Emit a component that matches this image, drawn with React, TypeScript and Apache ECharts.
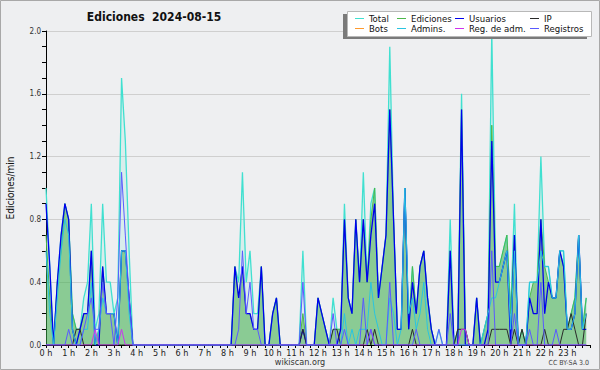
import React, { useEffect, useRef } from "react";
import * as echarts from "echarts";

// 10-minute bins (6 per hour), values in edits per minute
const HOUR_LABELS = ["0 h","1 h","2 h","3 h","4 h","5 h","6 h","7 h","8 h","9 h","10 h","11 h","12 h","13 h","14 h","15 h","16 h","17 h","18 h","19 h","20 h","21 h","22 h","23 h"];
const Y_TICKS = [0, 0.4, 0.8, 1.2, 1.6, 2.0];

const TOTAL = [
  1.0, 0.5, 0.0, 0.4, 0.7, 0.9,
  0.8, 0.2, 0.1, 0.1, 0.3, 0.4,
  0.9, 0.1, 0.2, 0.9, 0.4, 0.4,
  0.2, 0.3, 1.7, 1.3, 0.6, 0.0,
  0, 0, 0, 0, 0, 0,
  0, 0, 0, 0, 0, 0,
  0, 0, 0, 0, 0, 0,
  0, 0, 0, 0, 0, 0,
  0, 0, 0.5, 0.4, 1.1, 0.4,
  0.6, 0.2, 0.2, 0.5, 0, 0,
  0.2, 0.3, 0, 0, 0, 0,
  0, 0, 0.6, 0, 0, 0,
  0.3, 0.2, 0.1, 0, 0.3, 0.1,
  0.1, 0.9, 0.3, 0.2, 0.8, 0.4,
  1.1, 0.4, 0.9, 1.0, 0.3, 0.5,
  0.7, 1.9, 0.8, 0.1, 0.1, 1.0,
  0.1, 0.5, 0.2, 0.5, 0.6, 0.3,
  0.1, 0, 0.1, 0, 0, 0.8,
  0, 0.1, 1.6, 0.1, 0, 0,
  0.3, 0, 0.1, 0.2, 2.0, 0.5,
  0.5, 0.6, 0.7, 0.2, 0.9, 0,
  0.1, 0, 0.4, 0.4, 0.4, 1.2,
  0.5, 0.5, 0.3, 0.3, 0.6, 0.6,
  0.1, 0.2, 0.3, 0.7, 0.1, 0.3,
];

const EDICIONES = [
  0.7, 0.3, 0.0, 0.4, 0.6, 0.9,
  0.8, 0.2, 0.1, 0.1, 0.2, 0.2,
  0.6, 0.0, 0.1, 0.5, 0.2, 0.2,
  0.2, 0.0, 0.6, 0.6, 0.3, 0.0,
  0, 0, 0, 0, 0, 0,
  0, 0, 0, 0, 0, 0,
  0, 0, 0, 0, 0, 0,
  0, 0, 0, 0, 0, 0,
  0, 0, 0.5, 0.3, 0.5, 0.2,
  0.2, 0.1, 0.1, 0.5, 0, 0,
  0.2, 0.3, 0, 0, 0, 0,
  0, 0, 0.2, 0, 0, 0,
  0.3, 0.2, 0.1, 0, 0.1, 0.1,
  0.1, 0.8, 0.3, 0.2, 0.8, 0.4,
  0.8, 0.4, 0.8, 1.0, 0.3, 0.5,
  0.7, 1.5, 0.8, 0.1, 0.1, 1.0,
  0.1, 0.5, 0.2, 0.5, 0.6, 0.3,
  0.1, 0, 0, 0, 0, 0.6,
  0, 0.1, 1.5, 0.1, 0, 0,
  0.3, 0, 0.1, 0.2, 1.4, 0.5,
  0.5, 0.6, 0.7, 0.2, 0.7, 0,
  0.1, 0, 0.3, 0.4, 0.4, 0.8,
  0.5, 0.4, 0.3, 0.3, 0.6, 0.5,
  0.1, 0.2, 0.3, 0.7, 0.1, 0.3,
];

const USUARIOS = [
  0.9, 0.5, 0.0, 0.4, 0.7, 0.9,
  0.8, 0.1, 0.0, 0.1, 0.2, 0.2,
  0.6, 0.0, 0.0, 0.5, 0.2, 0.2,
  0.2, 0.0, 0.6, 0.6, 0.3, 0.0,
  0, 0, 0, 0, 0, 0,
  0, 0, 0, 0, 0, 0,
  0, 0, 0, 0, 0, 0,
  0, 0, 0, 0, 0, 0,
  0, 0, 0.5, 0.3, 0.5, 0.2,
  0.2, 0.1, 0.1, 0.5, 0, 0,
  0.2, 0.3, 0, 0, 0, 0,
  0, 0, 0.1, 0, 0, 0,
  0.3, 0.2, 0.1, 0, 0, 0,
  0.1, 0.8, 0.3, 0.2, 0.8, 0.4,
  0.8, 0.4, 0.7, 0.9, 0.3, 0.5,
  0.7, 1.5, 0.8, 0.1, 0.1, 1.0,
  0.1, 0.4, 0.2, 0.5, 0.6, 0.3,
  0.1, 0, 0, 0, 0, 0.6,
  0, 0, 1.5, 0, 0, 0,
  0.3, 0, 0.0, 0.1, 1.3, 0.4,
  0.4, 0.5, 0.6, 0.0, 0.7, 0,
  0, 0, 0.3, 0.2, 0.2, 0.8,
  0.2, 0.4, 0.3, 0.3, 0.6, 0.5,
  0.1, 0.1, 0.2, 0.7, 0.1, 0.1,
];

const IP = [
  0, 0, 0, 0, 0, 0,
  0, 0, 0.1, 0.1, 0, 0,
  0, 0, 0, 0, 0, 0,
  0, 0, 0, 0, 0, 0,
  0, 0, 0, 0, 0, 0,
  0, 0, 0, 0, 0, 0,
  0, 0, 0, 0, 0, 0,
  0, 0, 0, 0, 0, 0,
  0, 0, 0, 0, 0, 0,
  0, 0, 0, 0, 0, 0,
  0, 0, 0, 0, 0, 0,
  0, 0, 0.1, 0, 0, 0,
  0, 0, 0, 0, 0.1, 0.1,
  0, 0, 0, 0, 0, 0,
  0, 0.1, 0, 0.1, 0, 0,
  0, 0, 0, 0, 0, 0,
  0, 0.1, 0, 0, 0, 0,
  0, 0, 0, 0, 0, 0,
  0, 0.1, 0.1, 0.1, 0, 0,
  0, 0, 0, 0, 0.1, 0.1,
  0.1, 0.1, 0.1, 0, 0.1, 0,
  0.1, 0, 0, 0, 0, 0,
  0.1, 0, 0, 0, 0, 0.1,
  0.1, 0.2, 0.1, 0, 0, 0.2,
];

const BOTS: number[] = [];

const ADMINS = [
  0.6, 0.2, 0, 0.3, 0.6, 0.8,
  0.7, 0.1, 0, 0, 0.1, 0.1,
  0.4, 0, 0.1, 0.3, 0.2, 0.2,
  0.2, 0, 0.6, 0.6, 0.2, 0,
  0, 0, 0, 0, 0, 0,
  0, 0, 0, 0, 0, 0,
  0, 0, 0, 0, 0, 0,
  0, 0, 0, 0, 0, 0,
  0, 0, 0, 0, 0, 0,
  0, 0, 0, 0, 0, 0,
  0, 0, 0, 0, 0, 0,
  0, 0, 0, 0, 0, 0,
  0, 0, 0, 0, 0, 0,
  0, 0.2, 0, 0.1, 0, 0.1,
  0.1, 0.1, 0.4, 0.2, 0.1, 0,
  0, 0.3, 0.2, 0, 0.1, 1.0,
  0.2, 0.3, 0.1, 0.2, 0.4, 0.1,
  0, 0, 0, 0, 0, 0,
  0, 0, 0, 0, 0, 0,
  0, 0, 0.1, 0.2, 0.3, 0.3,
  0.4, 0.5, 0.6, 0.1, 0.6, 0,
  0, 0, 0.4, 0.4, 0.4, 0.6,
  0.5, 0.5, 0.3, 0.3, 0.6, 0.6,
  0.1, 0.1, 0.2, 0.7, 0.1, 0.2,
];

const REG_ADM = [
  0, 0, 0, 0, 0, 0,
  0, 0, 0, 0, 0, 0,
  0, 0.1, 0, 0, 0, 0,
  0, 0, 0.1, 0, 0, 0,
  0, 0, 0, 0, 0, 0,
  0, 0, 0, 0, 0, 0,
  0, 0, 0, 0, 0, 0,
  0, 0, 0, 0, 0, 0,
  0, 0, 0, 0, 0, 0,
  0, 0, 0, 0, 0, 0,
  0, 0, 0, 0, 0, 0,
  0, 0, 0, 0, 0, 0,
  0, 0, 0, 0, 0, 0,
  0, 0, 0, 0, 0, 0,
  0, 0, 0.1, 0, 0, 0,
  0, 0, 0, 0, 0, 0,
  0, 0, 0, 0, 0, 0,
  0, 0, 0, 0, 0, 0,
  0, 0, 0.1, 0.1, 0, 0,
  0, 0, 0, 0, 0, 0,
  0, 0, 0, 0, 0, 0,
  0, 0, 0, 0, 0, 0,
  0, 0, 0, 0, 0, 0,
  0, 0, 0, 0, 0, 0,
];

const REGISTROS = [
  0, 0, 0, 0, 0, 0,
  0.1, 0, 0, 0, 0.1, 0.2,
  0.3, 0.1, 0.1, 0.4, 0.2, 0.2,
  0, 0.3, 1.1, 0.7, 0.3, 0,
  0, 0, 0, 0, 0, 0,
  0, 0, 0, 0, 0, 0,
  0, 0, 0, 0, 0, 0,
  0, 0, 0, 0, 0, 0,
  0, 0, 0, 0.1, 0.6, 0.2,
  0.4, 0.1, 0.1, 0, 0, 0,
  0, 0, 0, 0, 0, 0,
  0, 0, 0.4, 0, 0, 0,
  0, 0, 0, 0, 0.2, 0,
  0, 0.1, 0, 0, 0, 0,
  0.3, 0, 0.1, 0, 0, 0,
  0, 0.4, 0, 0, 0, 0,
  0, 0, 0.1, 0, 0, 0,
  0, 0, 0.1, 0, 0, 0.2,
  0, 0, 0, 0, 0, 0,
  0, 0, 0, 0, 0.6, 0,
  0, 0, 0, 0, 0.2, 0,
  0, 0, 0.1, 0, 0, 0.4,
  0, 0, 0, 0.1, 0, 0,
  0, 0, 0, 0, 0, 0,
];

const FONT = '"DejaVu Sans Condensed", "DejaVu Sans", sans-serif';

const SERIES_DEF = [
  { name: "Total", data: TOTAL, color: "#40e0d0", width: 1.3, area: "rgba(64,224,208,0.12)" },
  { name: "Ediciones", data: EDICIONES, color: "#4cb84c", width: 1, area: "rgba(60,170,60,0.5)" },
  { name: "Usuarios", data: USUARIOS, color: "#0000ee", width: 1.3 },
  { name: "IP", data: IP, color: "#2a2a2a", width: 1 },
  { name: "Bots", data: BOTS, color: "#ff9a2e", width: 1 },
  { name: "Admins.", data: ADMINS, color: "#2ac4e0", width: 1 },
  { name: "Reg. de adm.", data: REG_ADM, color: "#cc33ee", width: 1 },
  { name: "Registros", data: REGISTROS, color: "#5a5aff", width: 1 },
];

const LEGEND_COLS = [355, 397, 455, 530];
const LEGEND_ROWS = [13.5, 23.5];

export default function App() {
  const ref = useRef<HTMLDivElement>(null);
  useEffect(() => {
    if (!ref.current) return;
    const chart = echarts.init(ref.current, undefined, { renderer: "svg" });
    const series = SERIES_DEF.map((s) => ({
      name: s.name,
      type: "line",
      data: s.data.map((v, i) => [i / 6, v]),
      showSymbol: false,
      symbol: "none",
      silent: true,
      lineStyle: { color: s.color, width: s.width },
      itemStyle: { color: s.color },
      areaStyle: s.area ? { color: s.area, opacity: 1 } : undefined,
      z: 2,
    }));
    const legends = SERIES_DEF.map((s, i) => ({
      data: [s.name],
      left: LEGEND_COLS[i % 4],
      top: LEGEND_ROWS[Math.floor(i / 4)],
      icon: "rect",
      itemWidth: 9,
      itemHeight: 1,
      itemGap: 0,
      padding: 0,
      selectedMode: false,
      z: 6,
      textStyle: { fontSize: 9.5, fontFamily: FONT, color: "#111" },
    }));
    chart.setOption({
      animation: false,
      backgroundColor: "#eeeff1",
      grid: {
        left: 46,
        right: 10,
        top: 31,
        bottom: 25,
        containLabel: false,
        outerBoundsMode: "none",
      },
      legend: legends,
      xAxis: {
        type: "value",
        min: 0,
        max: 24,
        interval: 1,
        axisLine: { show: true, lineStyle: { color: "#000", width: 1 } },
        axisTick: { show: true, length: 3, lineStyle: { color: "#000" } },
        minorTick: { show: true, splitNumber: 3, length: 3, lineStyle: { color: "#000" } },
        splitLine: { show: false },
        axisLabel: {
          fontSize: 9,
          fontFamily: FONT,
          color: "#222",
          margin: 3,
          showMaxLabel: false,
          formatter: (v: number) => HOUR_LABELS[v] ?? "",
        },
      },
      yAxis: {
        type: "value",
        min: Y_TICKS[0],
        max: Y_TICKS[Y_TICKS.length - 1],
        interval: 0.4,
        name: "Ediciones/min",
        nameLocation: "middle",
        nameRotate: 90,
        nameGap: 31,
        nameTextStyle: { fontSize: 10, fontFamily: FONT, color: "#111" },
        axisLine: { show: true, lineStyle: { color: "#000", width: 1 } },
        axisTick: { show: true, length: 4, lineStyle: { color: "#000" } },
        minorTick: { show: true, splitNumber: 4, length: 4, lineStyle: { color: "#000" } },
        splitLine: { show: true, lineStyle: { color: "#cfcfcf", width: 1 } },
        axisLabel: {
          fontSize: 8,
          fontFamily: FONT,
          color: "#333",
          margin: 5,
          formatter: (v: number) => v.toFixed(1),
        },
      },
      graphic: [
        {
          type: "rect",
          z: 3,
          shape: { x: 343, y: 14, width: 244, height: 25 },
          style: { fill: "#7a7a7a" },
        },
        {
          type: "rect",
          z: 3,
          shape: { x: 347.5, y: 11.5, width: 244, height: 25 },
          style: { fill: "#ffffff", stroke: "#b8b8b8", lineWidth: 1 },
        },
        {
          type: "text",
          z: 5,
          style: {
            x: 154,
            y: 16.5,
            text: "Ediciones  2024-08-15",
            font: `bold 12px ${FONT}`,
            fill: "#111",
            align: "center",
            verticalAlign: "middle",
          },
        },
        {
          type: "text",
          z: 5,
          style: {
            x: 300,
            y: 361.5,
            text: "wikiscan.org",
            font: `9px ${FONT}`,
            fill: "#333",
            align: "center",
            verticalAlign: "middle",
          },
        },
        {
          type: "text",
          z: 5,
          style: {
            x: 589,
            y: 362.5,
            text: "CC BY-SA 3.0",
            font: `7px ${FONT}`,
            fill: "#444",
            align: "right",
            verticalAlign: "middle",
          },
        },
        {
          type: "rect",
          z: 10,
          silent: true,
          shape: { x: 0.5, y: 0.5, width: 599, height: 369 },
          style: { fill: "none", stroke: "#a8a8a8", lineWidth: 1 },
        },
      ],
      series,
    });
    return () => chart.dispose();
  }, []);
  return (
    <div
      ref={ref}
      style={{ position: "fixed", left: 0, top: 0, width: 600, height: 370 }}
    />
  );
}
